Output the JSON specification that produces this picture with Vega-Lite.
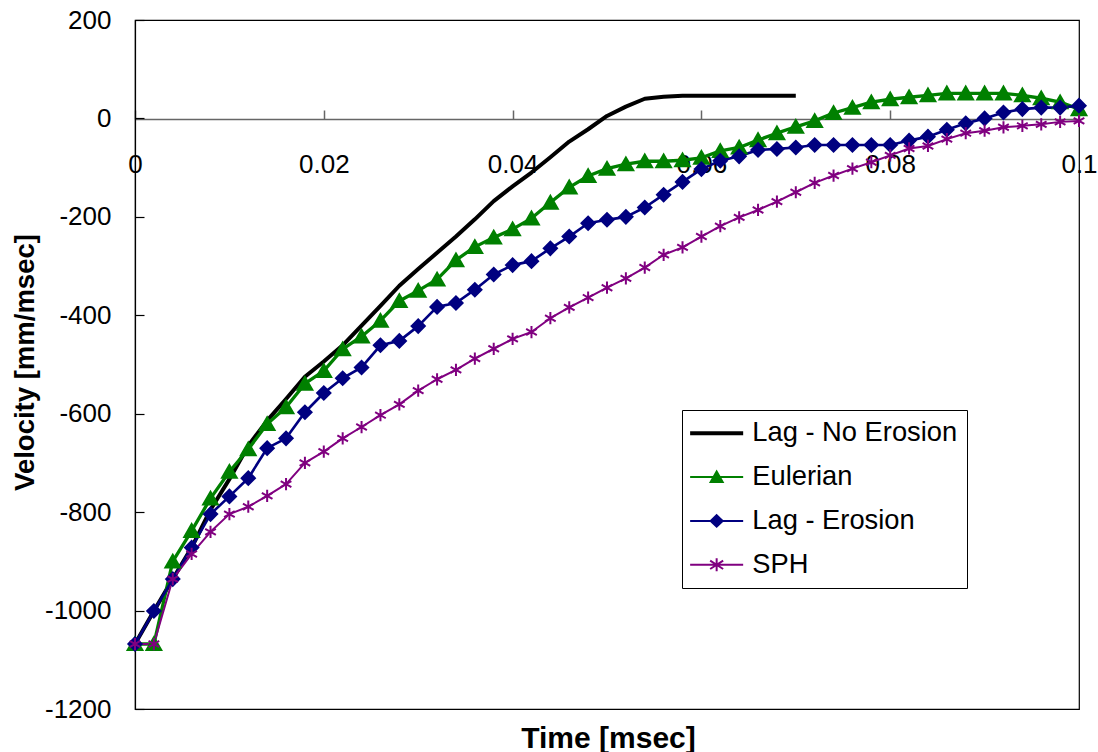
{
  "$schema": "https://vega.github.io/schema/vega-lite/v6.json",
  "width": 944,
  "height": 689,
  "autosize": {"type": "none"},
  "padding": {"left": 135, "top": 20, "right": 19, "bottom": 43},
  "background": "white",
  "config": {"view": {"stroke": "black", "strokeWidth": 1.2}, "font": "Liberation Sans"},
  "datasets": {
    "d": [
      {"s": "Lag - No Erosion", "t": 0, "v": -1068},
      {"s": "Lag - No Erosion", "t": 0.002, "v": -1001},
      {"s": "Lag - No Erosion", "t": 0.004, "v": -936},
      {"s": "Lag - No Erosion", "t": 0.006, "v": -872},
      {"s": "Lag - No Erosion", "t": 0.008, "v": -795},
      {"s": "Lag - No Erosion", "t": 0.010, "v": -733},
      {"s": "Lag - No Erosion", "t": 0.012, "v": -665},
      {"s": "Lag - No Erosion", "t": 0.014, "v": -614},
      {"s": "Lag - No Erosion", "t": 0.016, "v": -570},
      {"s": "Lag - No Erosion", "t": 0.018, "v": -525},
      {"s": "Lag - No Erosion", "t": 0.020, "v": -494},
      {"s": "Lag - No Erosion", "t": 0.022, "v": -461},
      {"s": "Lag - No Erosion", "t": 0.024, "v": -421},
      {"s": "Lag - No Erosion", "t": 0.026, "v": -381},
      {"s": "Lag - No Erosion", "t": 0.028, "v": -340},
      {"s": "Lag - No Erosion", "t": 0.030, "v": -306},
      {"s": "Lag - No Erosion", "t": 0.032, "v": -273},
      {"s": "Lag - No Erosion", "t": 0.034, "v": -240},
      {"s": "Lag - No Erosion", "t": 0.036, "v": -205},
      {"s": "Lag - No Erosion", "t": 0.038, "v": -168},
      {"s": "Lag - No Erosion", "t": 0.040, "v": -138},
      {"s": "Lag - No Erosion", "t": 0.042, "v": -110},
      {"s": "Lag - No Erosion", "t": 0.044, "v": -79},
      {"s": "Lag - No Erosion", "t": 0.046, "v": -47},
      {"s": "Lag - No Erosion", "t": 0.048, "v": -22},
      {"s": "Lag - No Erosion", "t": 0.050, "v": 5},
      {"s": "Lag - No Erosion", "t": 0.052, "v": 24},
      {"s": "Lag - No Erosion", "t": 0.054, "v": 40},
      {"s": "Lag - No Erosion", "t": 0.056, "v": 44},
      {"s": "Lag - No Erosion", "t": 0.058, "v": 46},
      {"s": "Lag - No Erosion", "t": 0.060, "v": 46},
      {"s": "Lag - No Erosion", "t": 0.062, "v": 46},
      {"s": "Lag - No Erosion", "t": 0.064, "v": 46},
      {"s": "Lag - No Erosion", "t": 0.066, "v": 46},
      {"s": "Lag - No Erosion", "t": 0.068, "v": 46},
      {"s": "Lag - No Erosion", "t": 0.070, "v": 46},

      {"s": "Eulerian", "t": 0, "v": -1068},
      {"s": "Eulerian", "t": 0.002, "v": -1068},
      {"s": "Eulerian", "t": 0.004, "v": -900},
      {"s": "Eulerian", "t": 0.006, "v": -838},
      {"s": "Eulerian", "t": 0.008, "v": -772},
      {"s": "Eulerian", "t": 0.010, "v": -718},
      {"s": "Eulerian", "t": 0.012, "v": -672},
      {"s": "Eulerian", "t": 0.014, "v": -621},
      {"s": "Eulerian", "t": 0.016, "v": -587},
      {"s": "Eulerian", "t": 0.018, "v": -539},
      {"s": "Eulerian", "t": 0.020, "v": -513},
      {"s": "Eulerian", "t": 0.022, "v": -469},
      {"s": "Eulerian", "t": 0.024, "v": -443},
      {"s": "Eulerian", "t": 0.026, "v": -411},
      {"s": "Eulerian", "t": 0.028, "v": -371},
      {"s": "Eulerian", "t": 0.030, "v": -350},
      {"s": "Eulerian", "t": 0.032, "v": -327},
      {"s": "Eulerian", "t": 0.034, "v": -288},
      {"s": "Eulerian", "t": 0.036, "v": -261},
      {"s": "Eulerian", "t": 0.038, "v": -242},
      {"s": "Eulerian", "t": 0.040, "v": -225},
      {"s": "Eulerian", "t": 0.042, "v": -203},
      {"s": "Eulerian", "t": 0.044, "v": -171},
      {"s": "Eulerian", "t": 0.046, "v": -140},
      {"s": "Eulerian", "t": 0.048, "v": -117},
      {"s": "Eulerian", "t": 0.050, "v": -102},
      {"s": "Eulerian", "t": 0.052, "v": -93},
      {"s": "Eulerian", "t": 0.054, "v": -87},
      {"s": "Eulerian", "t": 0.056, "v": -87},
      {"s": "Eulerian", "t": 0.058, "v": -85},
      {"s": "Eulerian", "t": 0.060, "v": -80},
      {"s": "Eulerian", "t": 0.062, "v": -66},
      {"s": "Eulerian", "t": 0.064, "v": -59},
      {"s": "Eulerian", "t": 0.066, "v": -44},
      {"s": "Eulerian", "t": 0.068, "v": -30},
      {"s": "Eulerian", "t": 0.070, "v": -17},
      {"s": "Eulerian", "t": 0.072, "v": -5},
      {"s": "Eulerian", "t": 0.074, "v": 11},
      {"s": "Eulerian", "t": 0.076, "v": 22},
      {"s": "Eulerian", "t": 0.078, "v": 33},
      {"s": "Eulerian", "t": 0.080, "v": 39},
      {"s": "Eulerian", "t": 0.082, "v": 43},
      {"s": "Eulerian", "t": 0.084, "v": 47},
      {"s": "Eulerian", "t": 0.086, "v": 51},
      {"s": "Eulerian", "t": 0.088, "v": 51},
      {"s": "Eulerian", "t": 0.090, "v": 51},
      {"s": "Eulerian", "t": 0.092, "v": 51},
      {"s": "Eulerian", "t": 0.094, "v": 47},
      {"s": "Eulerian", "t": 0.096, "v": 41},
      {"s": "Eulerian", "t": 0.098, "v": 33},
      {"s": "Eulerian", "t": 0.100, "v": 19},

      {"s": "Lag - Erosion", "t": 0, "v": -1068},
      {"s": "Lag - Erosion", "t": 0.002, "v": -1001},
      {"s": "Lag - Erosion", "t": 0.004, "v": -936},
      {"s": "Lag - Erosion", "t": 0.006, "v": -872},
      {"s": "Lag - Erosion", "t": 0.008, "v": -804},
      {"s": "Lag - Erosion", "t": 0.010, "v": -768},
      {"s": "Lag - Erosion", "t": 0.012, "v": -731},
      {"s": "Lag - Erosion", "t": 0.014, "v": -670},
      {"s": "Lag - Erosion", "t": 0.016, "v": -650},
      {"s": "Lag - Erosion", "t": 0.018, "v": -597},
      {"s": "Lag - Erosion", "t": 0.020, "v": -558},
      {"s": "Lag - Erosion", "t": 0.022, "v": -528},
      {"s": "Lag - Erosion", "t": 0.024, "v": -506},
      {"s": "Lag - Erosion", "t": 0.026, "v": -461},
      {"s": "Lag - Erosion", "t": 0.028, "v": -452},
      {"s": "Lag - Erosion", "t": 0.030, "v": -422},
      {"s": "Lag - Erosion", "t": 0.032, "v": -383},
      {"s": "Lag - Erosion", "t": 0.034, "v": -375},
      {"s": "Lag - Erosion", "t": 0.036, "v": -348},
      {"s": "Lag - Erosion", "t": 0.038, "v": -317},
      {"s": "Lag - Erosion", "t": 0.040, "v": -298},
      {"s": "Lag - Erosion", "t": 0.042, "v": -290},
      {"s": "Lag - Erosion", "t": 0.044, "v": -264},
      {"s": "Lag - Erosion", "t": 0.046, "v": -240},
      {"s": "Lag - Erosion", "t": 0.048, "v": -213},
      {"s": "Lag - Erosion", "t": 0.050, "v": -206},
      {"s": "Lag - Erosion", "t": 0.052, "v": -200},
      {"s": "Lag - Erosion", "t": 0.054, "v": -181},
      {"s": "Lag - Erosion", "t": 0.056, "v": -155},
      {"s": "Lag - Erosion", "t": 0.058, "v": -129},
      {"s": "Lag - Erosion", "t": 0.060, "v": -103},
      {"s": "Lag - Erosion", "t": 0.062, "v": -86},
      {"s": "Lag - Erosion", "t": 0.064, "v": -77},
      {"s": "Lag - Erosion", "t": 0.066, "v": -64},
      {"s": "Lag - Erosion", "t": 0.068, "v": -62},
      {"s": "Lag - Erosion", "t": 0.070, "v": -59},
      {"s": "Lag - Erosion", "t": 0.072, "v": -54},
      {"s": "Lag - Erosion", "t": 0.074, "v": -54},
      {"s": "Lag - Erosion", "t": 0.076, "v": -54},
      {"s": "Lag - Erosion", "t": 0.078, "v": -54},
      {"s": "Lag - Erosion", "t": 0.080, "v": -54},
      {"s": "Lag - Erosion", "t": 0.082, "v": -45},
      {"s": "Lag - Erosion", "t": 0.084, "v": -37},
      {"s": "Lag - Erosion", "t": 0.086, "v": -23},
      {"s": "Lag - Erosion", "t": 0.088, "v": -10},
      {"s": "Lag - Erosion", "t": 0.090, "v": 0},
      {"s": "Lag - Erosion", "t": 0.092, "v": 12},
      {"s": "Lag - Erosion", "t": 0.094, "v": 19},
      {"s": "Lag - Erosion", "t": 0.096, "v": 22},
      {"s": "Lag - Erosion", "t": 0.098, "v": 22},
      {"s": "Lag - Erosion", "t": 0.100, "v": 26},

      {"s": "SPH", "t": 0, "v": -1068},
      {"s": "SPH", "t": 0.002, "v": -1068},
      {"s": "SPH", "t": 0.004, "v": -936},
      {"s": "SPH", "t": 0.006, "v": -885},
      {"s": "SPH", "t": 0.008, "v": -840},
      {"s": "SPH", "t": 0.010, "v": -804},
      {"s": "SPH", "t": 0.012, "v": -789},
      {"s": "SPH", "t": 0.014, "v": -767},
      {"s": "SPH", "t": 0.016, "v": -743},
      {"s": "SPH", "t": 0.018, "v": -700},
      {"s": "SPH", "t": 0.020, "v": -677},
      {"s": "SPH", "t": 0.022, "v": -650},
      {"s": "SPH", "t": 0.024, "v": -627},
      {"s": "SPH", "t": 0.026, "v": -603},
      {"s": "SPH", "t": 0.028, "v": -581},
      {"s": "SPH", "t": 0.030, "v": -553},
      {"s": "SPH", "t": 0.032, "v": -530},
      {"s": "SPH", "t": 0.034, "v": -511},
      {"s": "SPH", "t": 0.036, "v": -488},
      {"s": "SPH", "t": 0.038, "v": -468},
      {"s": "SPH", "t": 0.040, "v": -448},
      {"s": "SPH", "t": 0.042, "v": -434},
      {"s": "SPH", "t": 0.044, "v": -406},
      {"s": "SPH", "t": 0.046, "v": -384},
      {"s": "SPH", "t": 0.048, "v": -364},
      {"s": "SPH", "t": 0.050, "v": -344},
      {"s": "SPH", "t": 0.052, "v": -325},
      {"s": "SPH", "t": 0.054, "v": -303},
      {"s": "SPH", "t": 0.056, "v": -277},
      {"s": "SPH", "t": 0.058, "v": -262},
      {"s": "SPH", "t": 0.060, "v": -240},
      {"s": "SPH", "t": 0.062, "v": -219},
      {"s": "SPH", "t": 0.064, "v": -201},
      {"s": "SPH", "t": 0.066, "v": -186},
      {"s": "SPH", "t": 0.068, "v": -169},
      {"s": "SPH", "t": 0.070, "v": -150},
      {"s": "SPH", "t": 0.072, "v": -131},
      {"s": "SPH", "t": 0.074, "v": -116},
      {"s": "SPH", "t": 0.076, "v": -102},
      {"s": "SPH", "t": 0.078, "v": -89},
      {"s": "SPH", "t": 0.080, "v": -75},
      {"s": "SPH", "t": 0.082, "v": -61},
      {"s": "SPH", "t": 0.084, "v": -56},
      {"s": "SPH", "t": 0.086, "v": -42},
      {"s": "SPH", "t": 0.088, "v": -30},
      {"s": "SPH", "t": 0.090, "v": -25},
      {"s": "SPH", "t": 0.092, "v": -18},
      {"s": "SPH", "t": 0.094, "v": -15},
      {"s": "SPH", "t": 0.096, "v": -12},
      {"s": "SPH", "t": 0.098, "v": -7},
      {"s": "SPH", "t": 0.100, "v": -5}
    ]
  },
  "data": {"name": "d"},
  "layer": [
    {
      "mark": {"type": "line", "strokeJoin": "round", "strokeCap": "butt"},
      "encoding": {
        "x": {
          "field": "t", "type": "quantitative",
          "scale": {"domain": [0, 0.1], "nice": false, "zero": false},
          "axis": {
            "orient": "bottom", "offset": -590, "title": null,
            "values": [0, 0.02, 0.04, 0.06, 0.08, 0.1], "format": "~g",
            "tickSize": -9, "tickColor": "#666666", "tickWidth": 1.5,
            "domainColor": "#666666", "domainWidth": 1.5,
            "labelPadding": 41, "labelFontSize": 26, "labelColor": "black",
            "labelFont": "Liberation Sans", "grid": false,
            "labelFlush": false, "labelOverlap": false
          }
        },
        "y": {
          "field": "v", "type": "quantitative",
          "scale": {"domain": [-1200, 200], "nice": false},
          "axis": {
            "orient": "left", "title": "Velocity [mm/msec]",
            "values": [-1200, -1000, -800, -600, -400, -200, 0, 200],
            "labelExpr": "'' + datum.value",
            "tickSize": -9, "tickColor": "black", "tickWidth": 1.2,
            "domainColor": "black", "domainWidth": 1.2,
            "labelPadding": 33, "labelFontSize": 26, "labelColor": "black",
            "labelFont": "Liberation Sans", "grid": false,
            "titleFont": "Liberation Sans", "titleFontSize": 27.5, "titleFontWeight": "bold",
            "titleColor": "black", "titleX": -102, "titleY": 342, "titleAngle": -90,
            "titleBaseline": "alphabetic", "titleAlign": "center"
          }
        },
        "color": {
          "field": "s", "type": "nominal",
          "scale": {
            "domain": ["Lag - No Erosion", "Eulerian", "Lag - Erosion", "SPH"],
            "range": ["#000000", "#008000", "#000080", "#800080"]
          },
          "legend": {
            "orient": "none", "legendX": 547, "legendY": 390, "title": null,
            "strokeColor": "black", "fillColor": "white", "padding": 9.5,
            "symbolSize": 676, "symbolOffset": 11.5, "labelOffset": 22,
            "labelFontSize": 27.3, "labelFont": "Liberation Sans", "labelColor": "black",
            "labelLimit": 400, "rowPadding": 15.9,
            "encode": {
              "symbols": {
                "update": {
                  "shape": {"signal": "datum.value === 'Lag - No Erosion' ? 'M-2.04,0H2.04' : datum.value === 'Eulerian' ? 'M-2.04,0H2.04M0,-0.42L0.46,0.38L-0.46,0.38Z' : datum.value === 'Lag - Erosion' ? 'M-2.04,0H2.04M0,-0.44L0.46,0L0,0.44L-0.46,0Z' : 'M-2.04,0H2.04M0,-0.5V0.5M-0.5,-0.32L0.5,0.32M-0.5,0.32L0.5,-0.32'"},
                  "fill": {"signal": "scale('color', datum.value)"},
                  "stroke": {"signal": "scale('color', datum.value)"},
                  "strokeWidth": {"signal": "datum.value === 'Lag - No Erosion' ? 4 : 2"},
                  "opacity": {"value": 1},
                  "fillOpacity": {"value": 1}
                }
              }
            }
          }
        },
        "strokeWidth": {
          "field": "s", "type": "nominal",
          "scale": {
            "domain": ["Lag - No Erosion", "Eulerian", "Lag - Erosion", "SPH"],
            "range": [4, 2, 2, 2]
          },
          "legend": null
        }
      }
    },
    {
      "transform": [{"filter": "datum.s !== 'Lag - No Erosion'"}],
      "mark": {"type": "point", "filled": true, "opacity": 1},
      "encoding": {
        "x": {
          "field": "t", "type": "quantitative",
          "scale": {"domain": [0, 0.1], "nice": false, "zero": false},
          "axis": {
            "orient": "bottom", "title": "Time [msec]",
            "domain": false, "ticks": false, "labels": false, "grid": false,
            "titleFont": "Liberation Sans", "titleFontSize": 30, "titleFontWeight": "bold",
            "titleColor": "black", "titleBaseline": "alphabetic",
            "titleX": 473, "titleY": 38, "titleAlign": "center"
          }
        },
        "y": {
          "field": "v", "type": "quantitative",
          "scale": {"domain": [-1200, 200], "nice": false},
          "axis": {
            "orient": "left", "title": "Velocity [mm/msec]",
            "values": [-1200, -1000, -800, -600, -400, -200, 0, 200],
            "labelExpr": "'' + datum.value",
            "tickSize": -9, "tickColor": "black", "tickWidth": 1.2,
            "domainColor": "black", "domainWidth": 1.2,
            "labelPadding": 33, "labelFontSize": 26, "labelColor": "black",
            "labelFont": "Liberation Sans", "grid": false,
            "titleFont": "Liberation Sans", "titleFontSize": 27.5, "titleFontWeight": "bold",
            "titleColor": "black", "titleX": -102, "titleY": 342, "titleAngle": -90,
            "titleBaseline": "alphabetic", "titleAlign": "center"
          }
        },
        "shape": {
          "field": "s", "type": "nominal",
          "scale": {
            "domain": ["Eulerian", "Lag - Erosion", "SPH"],
            "range": ["triangle-up", "diamond", "M0,-1V1M-0.87,-0.5L0.87,0.5M-0.87,0.5L0.87,-0.5"]
          },
          "legend": null
        },
        "size": {
          "field": "s", "type": "nominal",
          "scale": {"domain": ["Eulerian", "Lag - Erosion", "SPH"], "range": [155, 150, 225]},
          "legend": null
        },
        "strokeWidth": {
          "field": "s", "type": "nominal",
          "scale": {"domain": ["Eulerian", "Lag - Erosion", "SPH"], "range": [1, 1, 2]},
          "legend": null
        },
        "fill": {
          "field": "s", "type": "nominal",
          "scale": {"domain": ["Eulerian", "Lag - Erosion", "SPH"], "range": ["#008000", "#000080", "#800080"]},
          "legend": null
        },
        "stroke": {
          "field": "s", "type": "nominal",
          "scale": {"domain": ["Eulerian", "Lag - Erosion", "SPH"], "range": ["#008000", "#000080", "#800080"]},
          "legend": null
        }
      }
    }
  ],
  "resolve": {"axis": {"x": "independent"}}
}
